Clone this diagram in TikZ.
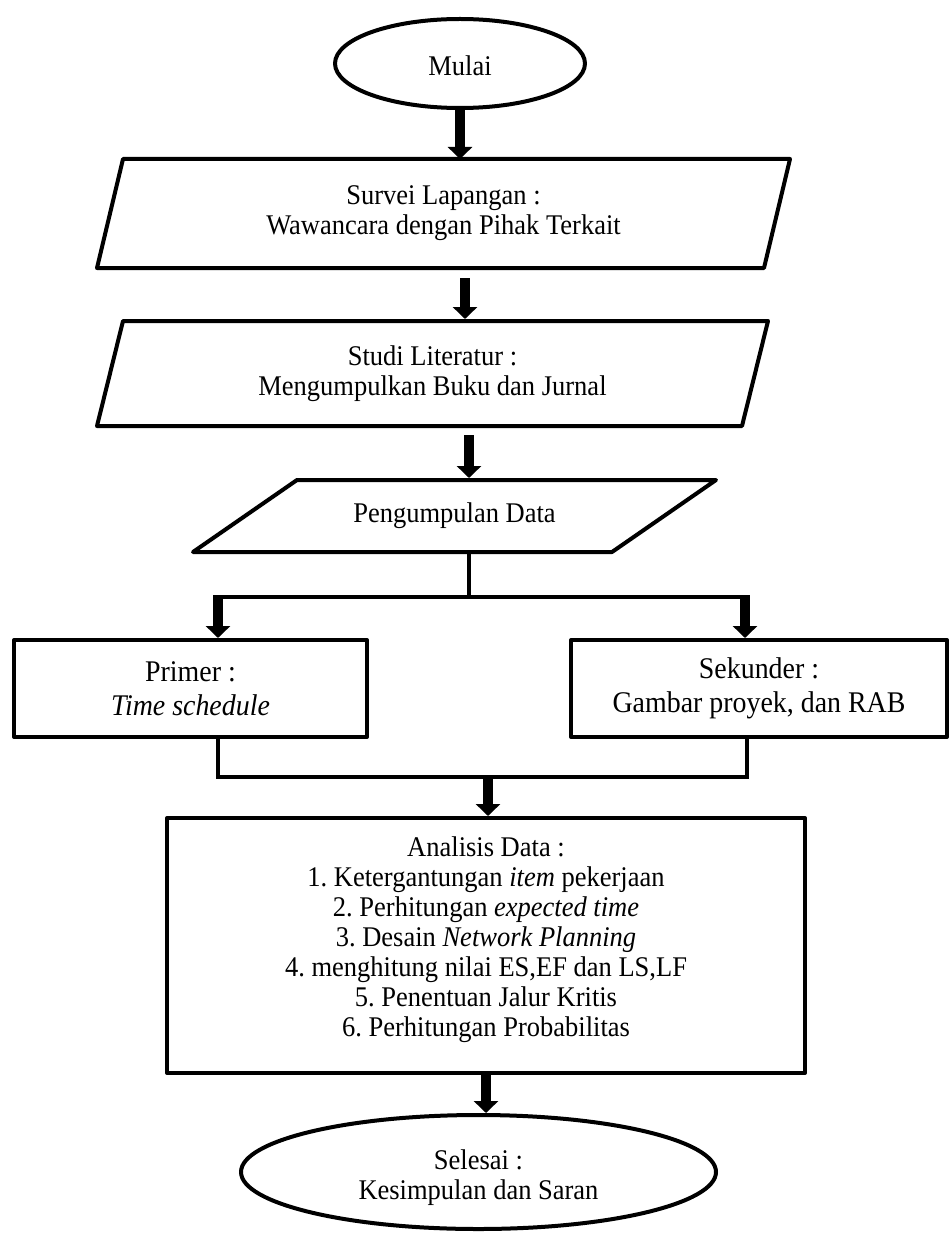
\documentclass[tikz,border=0pt]{standalone}
\usepackage{fontspec}
\setmainfont{Liberation Serif}[FakeStretch=0.93]
\usetikzlibrary{arrows.meta,shapes.geometric,calc}
\frenchspacing
\begin{document}
\begin{tikzpicture}[x=1pt,y=-1pt,
  bord/.style={line width=4pt, line join=round},
  arr/.style={line width=10pt, -{Triangle[width=24pt,length=12pt]}},
  conn/.style={line width=4pt},
  txt/.style={font=\fontsize{28.5}{30}\selectfont, align=center, inner sep=0pt, outer sep=0pt},
  bigtxt/.style={font=\fontsize{30}{34}\selectfont, align=center, inner sep=0pt},
  ]
\useasboundingbox (0,0) rectangle (952,1233);

% start
\node[draw, ellipse, bord, txt, outer sep=2pt, minimum width=250pt, minimum height=89pt] (mulai) at (460,63.5) {};
\node[txt] (mulaitext) at (460,66) {Mulai};

% parallelograms (text nodes + outline)
\node[txt, minimum width=693pt, minimum height=109pt] (survei) at (443.5,213.5)
  {Survei Lapangan :\\Wawancara dengan Pihak Terkait};
\draw[bord] ([xshift=26pt]survei.north west) -- (survei.north east)
  -- ([xshift=-26pt]survei.south east) -- (survei.south west) -- cycle;

\node[txt, minimum width=671pt, minimum height=105pt] (studi) at (432.5,373.5)
  {Studi Literatur :\\Mengumpulkan Buku dan Jurnal};
\draw[bord] ([xshift=26pt]studi.north west) -- (studi.north east)
  -- ([xshift=-26pt]studi.south east) -- (studi.south west) -- cycle;

\node[txt, minimum width=523pt, minimum height=72pt] (peng) at (454.5,516)
  {Pengumpulan Data};
\draw[bord] ([xshift=104pt]peng.north west) -- (peng.north east)
  -- ([xshift=-104pt]peng.south east) -- (peng.south west) -- cycle;

% data boxes
\node[draw, bord, bigtxt, outer sep=2pt, minimum width=353pt, minimum height=97pt] (primer) at (190.5,688.5)
  {Primer :\\\textit{Time schedule}};
\node[draw, bord, bigtxt, outer sep=2pt, minimum width=376pt, minimum height=97pt] (sek) at (759,688.5)
  {Sekunder :\\Gambar proyek, dan RAB};

% analysis box
\node[draw, bord, txt, outer sep=2pt, minimum width=638pt, minimum height=255pt] (ana) at (486,945.5) {};
\node[txt] (anatext) at (486,940)
  {Analisis Data :\\
   1. Ketergantungan \textit{item} pekerjaan\\
   2. Perhitungan \textit{expected time}\\
   3. Desain \textit{Network Planning}\\
   4. menghitung nilai ES,EF dan LS,LF\\
   5. Penentuan Jalur Kritis\\
   6. Perhitungan Probabilitas};

% end
\node[draw, ellipse, bord, txt, outer sep=2pt, minimum width=475pt, minimum height=114pt] (sel) at (478.5,1172) {};
\node[txt] (seltext) at (478.5,1178) {Selesai :\\Kesimpulan dan Saran};

% connectors
\draw[arr] (mulai.south) -- (mulai.south |- survei.north);
\draw[arr] ([xshift=21.5pt,yshift=-10pt]survei.south) -- ([xshift=21.5pt,yshift=2pt]survei.south |- studi.north);
\draw[arr] ([xshift=36.5pt,yshift=-9pt]studi.south) -- ([xshift=36.5pt,yshift=2pt]studi.south |- peng.north);

\coordinate (split) at (469,597);
\coordinate (bl) at (218,597);
\coordinate (br) at (745,597);
\draw[conn] ([yshift=-2pt]split |- peng.south) -- (split);
\draw[conn] (bl) -- (br);
\draw[arr] ([yshift=2pt]bl) -- (bl |- primer.north);
\draw[arr] ([yshift=2pt]br) -- (br |- sek.north);

\coordinate (ml) at (218,777);
\coordinate (mr) at (747,777);
\coordinate (mm) at (488,777);
\draw[conn, line join=miter] (ml |- primer.south) -- (ml) -- (mr) -- (mr |- sek.south);
\draw[arr] ([yshift=2pt]mm) -- (mm |- ana.north);

\draw[arr] (ana.south) -- (ana.south |- sel.north);
\end{tikzpicture}
\end{document}
